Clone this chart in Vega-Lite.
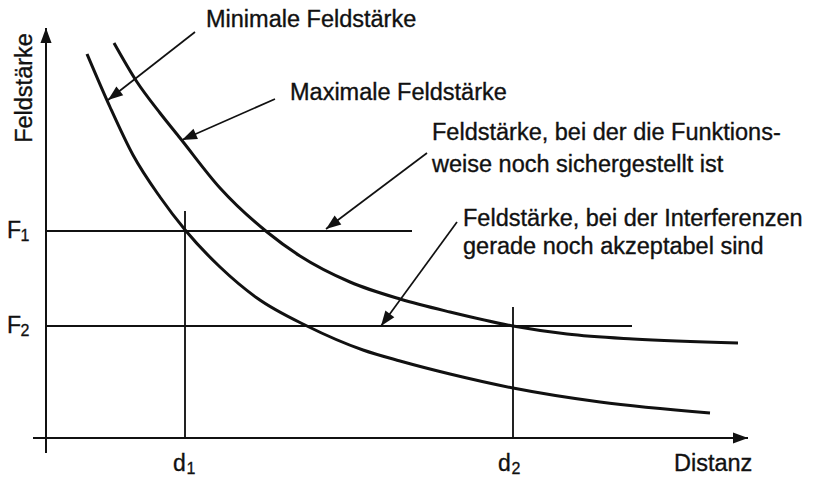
{
  "$schema": "https://vega.github.io/schema/vega-lite/v6.json",
  "width": 814,
  "height": 477,
  "padding": 0,
  "autosize": {"type": "none"},
  "background": "white",
  "config": {"view": {"stroke": null}, "text": {"font": "Liberation Sans", "color": "#111111"}},
  "datasets": {
    "segments": [
      {"kind": "axis", "x": 46, "y": 453, "x2": 46, "y2": 28},
      {"kind": "axis", "x": 33, "y": 438, "x2": 748, "y2": 438},
      {"kind": "ref", "x": 46, "y": 231, "x2": 412, "y2": 231},
      {"kind": "ref", "x": 46, "y": 326, "x2": 632, "y2": 326},
      {"kind": "ref", "x": 185, "y": 211, "x2": 185, "y2": 438},
      {"kind": "ref", "x": 513, "y": 307, "x2": 513, "y2": 438},
      {"kind": "pointer", "x": 195, "y": 32, "x2": 108, "y2": 100},
      {"kind": "pointer", "x": 275, "y": 99, "x2": 182, "y2": 140},
      {"kind": "pointer", "x": 427, "y": 153, "x2": 326, "y2": 229},
      {"kind": "pointer", "x": 457, "y": 222, "x2": 381, "y2": 326}
    ],
    "curves": [
      {"curve": "min", "x": 87, "y": 54},
      {"curve": "min", "x": 110, "y": 107},
      {"curve": "min", "x": 133, "y": 155},
      {"curve": "min", "x": 160, "y": 197},
      {"curve": "min", "x": 186, "y": 231},
      {"curve": "min", "x": 220, "y": 267},
      {"curve": "min", "x": 257, "y": 298},
      {"curve": "min", "x": 307, "y": 326},
      {"curve": "min", "x": 363, "y": 350},
      {"curve": "min", "x": 400, "y": 361},
      {"curve": "min", "x": 450, "y": 374},
      {"curve": "min", "x": 513, "y": 388},
      {"curve": "min", "x": 600, "y": 402},
      {"curve": "min", "x": 710, "y": 413},
      {"curve": "max", "x": 114, "y": 43},
      {"curve": "max", "x": 137, "y": 82},
      {"curve": "max", "x": 160, "y": 113},
      {"curve": "max", "x": 180, "y": 138},
      {"curve": "max", "x": 220, "y": 188},
      {"curve": "max", "x": 267, "y": 232},
      {"curve": "max", "x": 300, "y": 256},
      {"curve": "max", "x": 350, "y": 282},
      {"curve": "max", "x": 400, "y": 299},
      {"curve": "max", "x": 450, "y": 312},
      {"curve": "max", "x": 513, "y": 326},
      {"curve": "max", "x": 567, "y": 334},
      {"curve": "max", "x": 633, "y": 339},
      {"curve": "max", "x": 738, "y": 343}
    ],
    "texts": [
      {"text": "Minimale Feldstärke", "x": 206, "y": 27},
      {"text": "Maximale Feldstärke", "x": 290, "y": 100},
      {"text": "Feldstärke, bei der die Funktions-", "x": 432, "y": 140},
      {"text": "weise noch sichergestellt ist", "x": 432, "y": 172},
      {"text": "Feldstärke, bei der Interferenzen", "x": 463, "y": 226},
      {"text": "gerade noch akzeptabel sind", "x": 463, "y": 254},
      {"text": "Distanz", "x": 674, "y": 471}
    ],
    "labels": [
      {"main": "F", "sub": "1", "x": 7, "y": 238},
      {"main": "F", "sub": "2", "x": 7, "y": 333},
      {"main": "d", "sub": "1", "x": 173, "y": 471},
      {"main": "d", "sub": "2", "x": 498, "y": 471}
    ],
    "ylabel": [
      {"text": "Feldstärke", "x": 32, "y": 88}
    ]
  },
  "layer": [
    {
      "data": {"name": "segments"},
      "mark": {"type": "rule", "color": "#111111", "strokeCap": "butt"},
      "encoding": {
        "x": {"field": "x", "type": "quantitative", "scale": {"domain": [0, 814], "nice": false, "zero": false}, "axis": null},
        "y": {"field": "y", "type": "quantitative", "scale": {"domain": [0, 477], "nice": false, "zero": false, "reverse": true}, "axis": null},
        "x2": {"field": "x2"},
        "y2": {"field": "y2"},
        "strokeWidth": {"field": "kind", "type": "nominal", "scale": {"domain": ["axis", "ref", "pointer"], "range": [2, 1.7, 1.5]}, "legend": null}
      }
    },
    {
      "data": {"name": "curves"},
      "mark": {"type": "line", "color": "#111111", "strokeWidth": 3, "interpolate": "monotone"},
      "encoding": {
        "x": {"field": "x", "type": "quantitative", "scale": {"domain": [0, 814], "nice": false, "zero": false}, "axis": null},
        "y": {"field": "y", "type": "quantitative", "scale": {"domain": [0, 477], "nice": false, "zero": false, "reverse": true}, "axis": null},
        "detail": {"field": "curve", "type": "nominal"}
      }
    },
    {
      "data": {"name": "segments"},
      "transform": [
        {"filter": "datum.kind !== 'ref'"},
        {"calculate": "atan2(datum.x2 - datum.x, datum.y - datum.y2) * 180 / PI", "as": "angle"}
      ],
      "mark": {"type": "point", "shape": "M0,0L-0.37,1L0.37,1Z", "filled": true, "opacity": 1, "color": "#111111", "size": 900, "strokeWidth": 0},
      "encoding": {
        "x": {"field": "x2", "type": "quantitative", "scale": {"domain": [0, 814], "nice": false, "zero": false}, "axis": null},
        "y": {"field": "y2", "type": "quantitative", "scale": {"domain": [0, 477], "nice": false, "zero": false, "reverse": true}, "axis": null},
        "angle": {"field": "angle", "type": "quantitative", "scale": null}
      }
    },
    {
      "data": {"name": "texts"},
      "mark": {"type": "text", "align": "left", "baseline": "alphabetic", "fontSize": 23.5, "stroke": "#111111", "strokeWidth": 0.35},
      "encoding": {
        "x": {"field": "x", "type": "quantitative", "scale": {"domain": [0, 814], "nice": false, "zero": false}, "axis": null},
        "y": {"field": "y", "type": "quantitative", "scale": {"domain": [0, 477], "nice": false, "zero": false, "reverse": true}, "axis": null},
        "text": {"field": "text"}
      }
    },
    {
      "data": {"name": "labels"},
      "mark": {"type": "text", "align": "left", "baseline": "alphabetic", "fontSize": 23, "stroke": "#111111", "strokeWidth": 0.35},
      "encoding": {
        "x": {"field": "x", "type": "quantitative", "scale": {"domain": [0, 814], "nice": false, "zero": false}, "axis": null},
        "y": {"field": "y", "type": "quantitative", "scale": {"domain": [0, 477], "nice": false, "zero": false, "reverse": true}, "axis": null},
        "text": {"field": "main"}
      }
    },
    {
      "data": {"name": "labels"},
      "mark": {"type": "text", "align": "left", "baseline": "alphabetic", "fontSize": 16, "dx": 13.5, "dy": 3, "stroke": "#111111", "strokeWidth": 0.3},
      "encoding": {
        "x": {"field": "x", "type": "quantitative", "scale": {"domain": [0, 814], "nice": false, "zero": false}, "axis": null},
        "y": {"field": "y", "type": "quantitative", "scale": {"domain": [0, 477], "nice": false, "zero": false, "reverse": true}, "axis": null},
        "text": {"field": "sub"}
      }
    },
    {
      "data": {"name": "ylabel"},
      "mark": {"type": "text", "align": "center", "baseline": "alphabetic", "fontSize": 23.5, "angle": 270, "stroke": "#111111", "strokeWidth": 0.35},
      "encoding": {
        "x": {"field": "x", "type": "quantitative", "scale": {"domain": [0, 814], "nice": false, "zero": false}, "axis": null},
        "y": {"field": "y", "type": "quantitative", "scale": {"domain": [0, 477], "nice": false, "zero": false, "reverse": true}, "axis": null},
        "text": {"field": "text"}
      }
    }
  ]
}
